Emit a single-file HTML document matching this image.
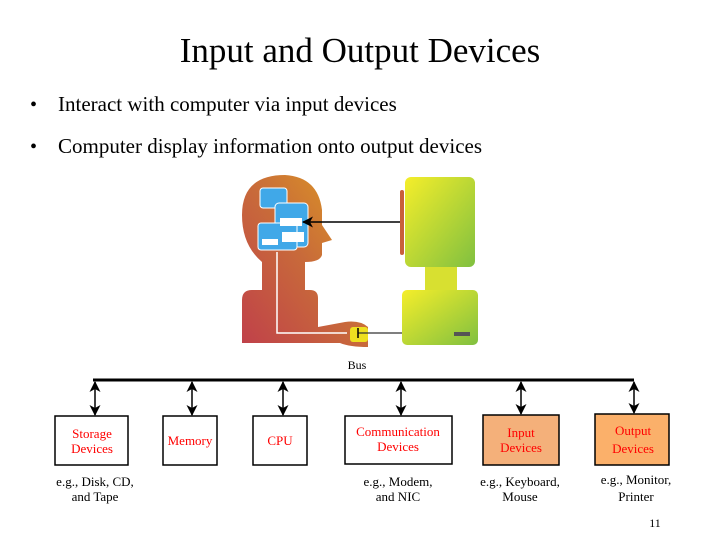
<!DOCTYPE html>
<html><head><meta charset="utf-8"><style>
html,body{margin:0;padding:0;background:#fff;}
svg{display:block;}
text{font-family:"Liberation Serif",serif;}
</style></head><body>
<svg width="720" height="540" viewBox="0 0 720 540" xmlns="http://www.w3.org/2000/svg">
<defs>
<linearGradient id="hg" x1="0" y1="1" x2="1" y2="0"><stop offset="0" stop-color="#c0404a"/><stop offset="0.5" stop-color="#c86a3a"/><stop offset="1" stop-color="#e0a020"/></linearGradient>
<linearGradient id="cg" x1="0" y1="0" x2="1" y2="1"><stop offset="0" stop-color="#f5ee2a"/><stop offset="1" stop-color="#80c040"/></linearGradient>
<marker id="ah" markerWidth="11" markerHeight="11" refX="10" refY="5.5" orient="auto-start-reverse" markerUnits="userSpaceOnUse"><path d="M0,0 L11,5.5 L0,11 L3,5.5 Z" fill="#000"/></marker>
</defs>
<text x="360" y="62" font-size="35" text-anchor="middle">Input and Output Devices</text>
<text x="30" y="111" font-size="20">•</text>
<text x="58" y="111" font-size="21">Interact with computer via input devices</text>
<text x="30" y="153" font-size="20">•</text>
<text x="58" y="153" font-size="21">Computer display information onto output devices</text>
<!-- head -->
<path d="M242,343 L242,300 Q242,290 252,290 L262,290 L262,262 Q242,245 242,215 Q242,175 285,175 Q318,177 322,210 L322,225 L332,240 L322,243 L322,255 Q320,262 305,262 L305,290 L310,290 Q318,290 318,298 L318,327 L345,322 Q360,320 368,327 L368,347 Q350,347 340,343 Z" fill="url(#hg)"/>
<rect x="260" y="188" width="27" height="20" rx="3" fill="#40a8e8" stroke="#fff"/>
<rect x="275" y="203" width="33" height="44" rx="4" fill="#40a8e8" stroke="#fff"/>
<rect x="258" y="223" width="39" height="27" rx="3" fill="#40a8e8" stroke="#fff"/>
<rect x="280" y="218" width="22" height="8" fill="#fff"/>
<rect x="262" y="239" width="16" height="6" fill="#fff"/>
<rect x="282" y="232" width="22" height="10" fill="#fff"/>
<path d="M277,252 V333 H347" stroke="#fff" stroke-width="1.5" fill="none"/>
<line x1="400" y1="222" x2="303" y2="222" stroke="#000" stroke-width="1.5" marker-end="url(#ah)"/>
<!-- computer -->
<rect x="405" y="177" width="70" height="90" rx="6" fill="url(#cg)"/>
<rect x="400" y="190" width="4" height="65" rx="2" fill="#c8603a"/>
<rect x="425" y="267" width="32" height="24" fill="#d8e030"/>
<rect x="402" y="290" width="76" height="55" rx="5" fill="url(#cg)"/>
<rect x="454" y="332" width="16" height="4" fill="#555"/>
<rect x="350" y="327" width="18" height="15" rx="3" fill="#eee020"/>
<line x1="402" y1="333" x2="358" y2="333" stroke="#333" stroke-width="1.2"/>
<line x1="358" y1="328" x2="358" y2="338" stroke="#000" stroke-width="1.5"/>
<text x="357" y="369" font-size="12" text-anchor="middle">Bus</text>
<line x1="93" y1="380" x2="634" y2="380" stroke="#000" stroke-width="3"/>
<g stroke="#000" stroke-width="1.5">
<line x1="95" y1="382" x2="95" y2="415" marker-start="url(#ah)" marker-end="url(#ah)"/>
<line x1="192" y1="382" x2="192" y2="415" marker-start="url(#ah)" marker-end="url(#ah)"/>
<line x1="283" y1="382" x2="283" y2="415" marker-start="url(#ah)" marker-end="url(#ah)"/>
<line x1="401" y1="382" x2="401" y2="415" marker-start="url(#ah)" marker-end="url(#ah)"/>
<line x1="521" y1="382" x2="521" y2="414" marker-start="url(#ah)" marker-end="url(#ah)"/>
<line x1="634" y1="382" x2="634" y2="413" marker-start="url(#ah)" marker-end="url(#ah)"/>
</g>
<g stroke="#000" stroke-width="1.5">
<rect x="55" y="416" width="73" height="49" fill="#fff"/>
<rect x="163" y="416" width="54" height="49" fill="#fff"/>
<rect x="253" y="416" width="54" height="49" fill="#fff"/>
<rect x="345" y="416" width="107" height="48" fill="#fff"/>
<rect x="483" y="415" width="76" height="50" fill="#f4b07a"/>
<rect x="595" y="414" width="74" height="51" fill="#fbb06a"/>
</g>
<g fill="#ff0000" font-size="13" text-anchor="middle">
<text x="92" y="438">Storage</text><text x="92" y="453">Devices</text>
<text x="190" y="445">Memory</text>
<text x="280" y="445">CPU</text>
<text x="398" y="436">Communication</text><text x="398" y="451">Devices</text>
<text x="521" y="437">Input</text><text x="521" y="452">Devices</text>
<text x="633" y="435">Output</text><text x="633" y="453">Devices</text>
</g>
<g font-size="13" text-anchor="middle">
<text x="95" y="486">e.g., Disk, CD,</text><text x="95" y="501">and Tape</text>
<text x="398" y="486">e.g., Modem,</text><text x="398" y="501">and NIC</text>
<text x="520" y="486">e.g., Keyboard,</text><text x="520" y="501">Mouse</text>
<text x="636" y="484">e.g., Monitor,</text><text x="636" y="501">Printer</text>
</g>
<text x="655" y="527" font-size="12" text-anchor="middle">11</text>
</svg>
</body></html>
